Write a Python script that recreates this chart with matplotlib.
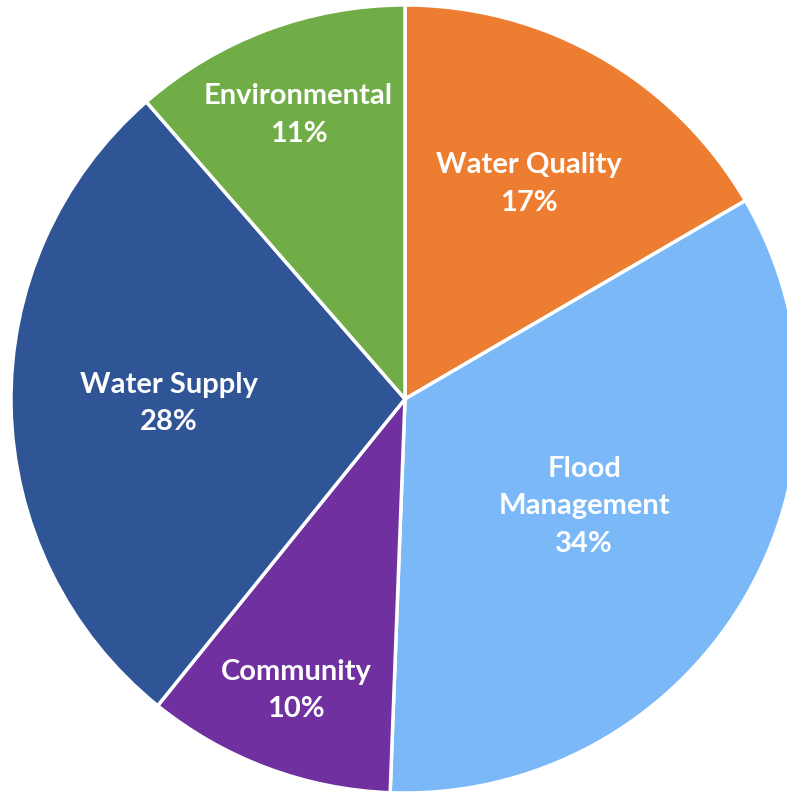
import numpy as np
import matplotlib
matplotlib.use('Agg')
import matplotlib.pyplot as plt

# data (clockwise from 12 o'clock)
categories = ['Water Quality', 'Flood\nManagement', 'Community', 'Water Supply', 'Environmental']
shares = [16.6, 34.0, 10.2, 27.8, 11.4]   # slice sizes as measured; labels show them rounded
colors = ['#ED7D31', '#7AB8F8', '#7030A0', '#2F5597', '#70AD47']

# how far out each label sits (fraction of radius), like Excel's best fit
label_r = [0.63, 0.53, 0.79, 0.60, 0.77]

fig = plt.figure(figsize=(7.87, 7.95), dpi=100)
ax = fig.add_axes([0, 0, 1, 1])

wedges, _ = ax.pie(shares, colors=colors, startangle=90, counterclock=False,
                   radius=1.0, wedgeprops=dict(edgecolor='white', linewidth=2.5))

for w, name, val, r in zip(wedges, categories, shares, label_r):
    ang = np.deg2rad((w.theta1 + w.theta2) / 2)
    ax.text(r * np.cos(ang), r * np.sin(ang), f'{name}\n{val:.0f}%',
            ha='center', va='center', color='white', fontsize=21,
            fontweight='bold', family='Lato', linespacing=1.55)

# pie centre sits at (405, 399) px, radius ~394 px, right side cropped
ax.set_xlim(-405 / 394, (787 - 405) / 394)
ax.set_ylim(-(795 - 399) / 394, 399 / 394)
ax.set_aspect('auto')
ax.axis('off')

fig.savefig('out.png', dpi=100, facecolor='white')
